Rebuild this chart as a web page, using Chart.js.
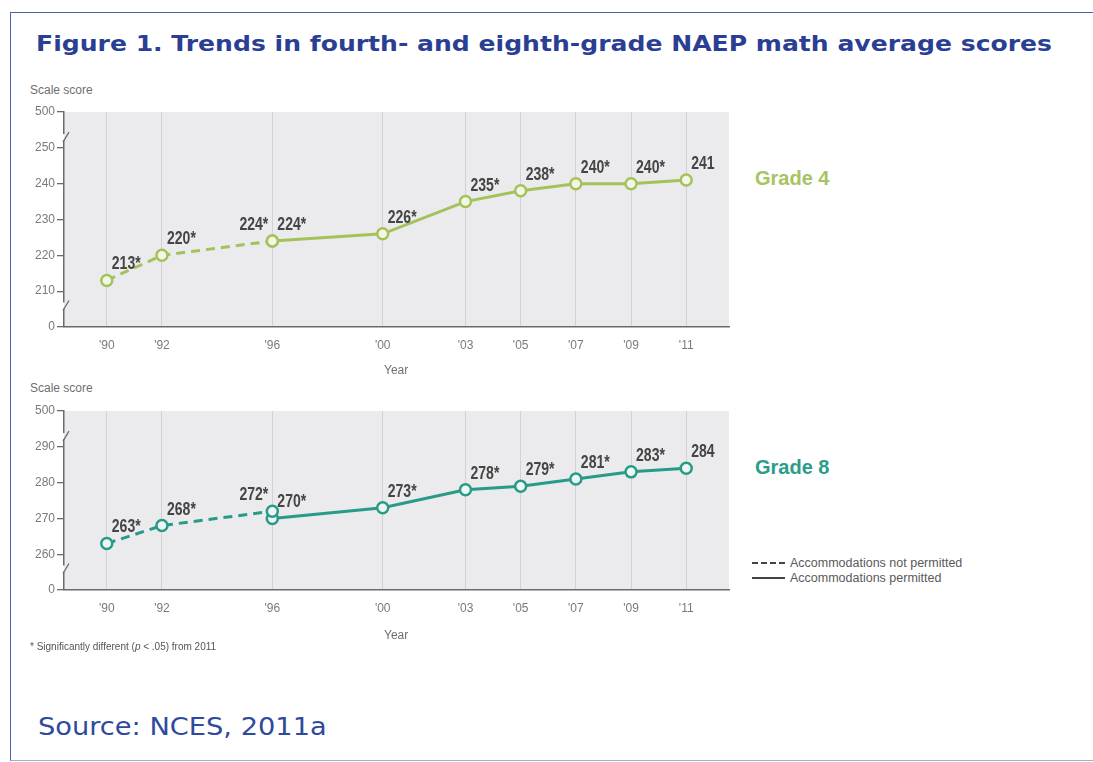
<!DOCTYPE html>
<html>
<head>
<meta charset="utf-8">
<script src="https://cdn.jsdelivr.net/npm/chart.js@4.4.0/dist/chart.umd.min.js"></script>
<style>
  body { margin: 0; width: 1093px; height: 762px; overflow: hidden; position: relative; background: #fff;
         font-family: 'Liberation Sans', Arial, sans-serif; }
  #frame { position: absolute; left: 10px; top: 12px; width: 1100px; height: 747px;
           border-left: 1.5px solid #4a63b0; border-top: 1.5px solid #4a63b0; border-bottom: 1.5px solid #a7aec9; }
  .txt { position: absolute; white-space: nowrap; line-height: 20px; }
  #title { left: 36px; top: 34px; font-family: 'DejaVu Sans', Verdana, sans-serif; font-size: 22px; font-weight: bold;
           color: #2a3f94; transform: scaleX(1.14); transform-origin: left center; }
  #source { left: 38px; top: 717px; font-family: 'DejaVu Sans', Verdana, sans-serif; font-size: 25px; color: #2f4a9c;
            transform: scaleX(1.09); transform-origin: left center; }
  .axisnote { font-size: 12px; color: #6f6f6f; }
  .grade { font-size: 20px; font-weight: bold; }
  .legend { font-size: 12.5px; color: #5a5a5a; }
  .wrap { position: absolute; left: 0; }
  .sample { position: absolute; left: 752px; width: 33px; height: 0; }
</style>
</head>
<body>
<div id="frame"></div>
<div class="txt" id="title">Figure 1. Trends in fourth- and eighth-grade NAEP math average scores</div>

<div class="txt axisnote" style="left:30px; top:80px;">Scale score</div>
<div class="wrap" style="top:95px;"><canvas id="grade4" width="745" height="275"></canvas></div>
<div class="txt axisnote" style="left:384px; top:360px;">Year</div>
<div class="txt grade" style="left:755px; top:168px; color:#a6c462;">Grade 4</div>

<div class="txt axisnote" style="left:30px; top:378px;">Scale score</div>
<div class="wrap" style="top:394px;"><canvas id="grade8" width="745" height="239"></canvas></div>
<div class="txt axisnote" style="left:384px; top:625px;">Year</div>
<div class="txt grade" style="left:755px; top:457px; color:#2a9c8a;">Grade 8</div>

<div class="sample" style="top:562px; border-top: 2.5px dashed #444;"></div>
<div class="txt legend" style="left:790px; top:553px;">Accommodations not permitted</div>
<div class="sample" style="top:577px; border-top: 2.5px solid #444;"></div>
<div class="txt legend" style="left:790px; top:568px;">Accommodations permitted</div>

<div class="txt" style="left:30px; top:637px; font-size:10px; color:#555;">* Significantly different (<i>p</i> &lt; .05) from 2011</div>

<div class="txt" id="source">Source: NCES, 2011a</div>

<script>
// years and tick labels
const years = [1990, 1992, 1996, 2000, 2003, 2005, 2007, 2009, 2011];
const yearLabels = ["'90", "'92", "'96", "'00", "'03", "'05", "'07", "'09", "'11"];
const notPermittedYears = [1990, 1992, 1996];
const permittedYears = [1996, 2000, 2003, 2005, 2007, 2009, 2011];

// Grade 4 scores
const g4NotPermitted = [213, 220, 224];
const g4Permitted = [224, 226, 235, 238, 240, 240, 241];
const g4Ticks = [200, 210, 220, 230, 240, 250, 260];
const g4TickLabels = ['0', '210', '220', '230', '240', '250', '500'];

// Grade 8 scores
const g8NotPermitted = [263, 268, 272];
const g8Permitted = [270, 273, 278, 279, 281, 283, 284];
const g8Ticks = [250, 260, 270, 280, 290, 300];
const g8TickLabels = ['0', '260', '270', '280', '290', '500'];

// significantly different from 2011 -> asterisk
const notPermittedSig = [true, true, true];
const permittedSig = [true, true, true, true, true, true, false];

const sans = "'Liberation Sans', Arial, sans-serif";
const axisColor = '#6b6b6b';

// grey plot background
const plotBg = {
  id: 'plotBg',
  beforeDraw(chart) {
    const a = chart.chartArea, ctx = chart.ctx;
    ctx.save();
    ctx.fillStyle = '#ebebee';
    ctx.fillRect(a.left, a.top, a.right - a.left, a.bottom - a.top);
    ctx.restore();
  }
};

// axis break marks near top and bottom of the y axis
const axisBreaks = {
  id: 'axisBreaks',
  afterDraw(chart) {
    const y = chart.scales.y, ctx = chart.ctx;
    const x = chart.chartArea.left;
    [y.max - 7, y.min + 6].forEach(v => {
      const py = y.getPixelForValue(v);
      ctx.save();
      ctx.fillStyle = '#ffffff';
      ctx.fillRect(x - 2, py - 3, 2, 6);
      ctx.fillStyle = '#ebebee';
      ctx.fillRect(x, py - 3, 2, 6);
      ctx.strokeStyle = axisColor;
      ctx.lineWidth = 1.3;
      ctx.beginPath();
      ctx.moveTo(x - 1, py + 5);
      ctx.lineTo(x + 5, py - 5);
      ctx.stroke();
      ctx.restore();
    });
  }
};

// score labels above each point (condensed by a horizontal squeeze)
const pointLabels = {
  id: 'pointLabels',
  afterDatasetsDraw(chart) {
    const ctx = chart.ctx;
    const squeeze = 0.78;
    chart.data.datasets.forEach((ds, di) => {
      const meta = chart.getDatasetMeta(di);
      meta.data.forEach((pt, i) => {
        const txt = ds.data[i].y + (ds.sig[i] ? '*' : '');
        const onLeft = ds.dashed && i === ds.data.length - 1;
        const tx = onLeft ? pt.x - 4 : pt.x + 5;
        ctx.save();
        ctx.font = 'bold 18px ' + sans;
        ctx.fillStyle = '#454545';
        ctx.textBaseline = 'middle';
        ctx.textAlign = onLeft ? 'right' : 'left';
        ctx.translate(tx, pt.y - 16);
        ctx.scale(squeeze, 1);
        ctx.fillText(txt, 0, 0);
        ctx.restore();
      });
    });
  }
};

function makeChart(id, color, fill, notPermitted, permitted, ticks, tickLabels) {
  const ctx = document.getElementById(id).getContext('2d');
  return new Chart(ctx, {
    type: 'line',
    data: {
      datasets: [{
        data: notPermittedYears.map((yr, i) => ({ x: yr, y: notPermitted[i] })),
        sig: notPermittedSig,
        dashed: true,
        borderColor: color,
        borderWidth: 3,
        borderDash: [9, 6],
        pointRadius: 5.5,
        pointBorderWidth: 2.5,
        pointBorderColor: color,
        pointBackgroundColor: fill
      }, {
        data: permittedYears.map((yr, i) => ({ x: yr, y: permitted[i] })),
        sig: permittedSig,
        dashed: false,
        borderColor: color,
        borderWidth: 3,
        pointRadius: 5.5,
        pointBorderWidth: 2.5,
        pointBorderColor: color,
        pointBackgroundColor: fill
      }]
    },
    options: {
      responsive: false,
      animation: false,
      layout: { padding: { top: 17, right: 16, left: 0, bottom: 0 } },
      plugins: { legend: { display: false }, tooltip: { enabled: false } },
      scales: {
        x: {
          type: 'linear',
          min: 1988.45,
          max: 2012.55,
          afterBuildTicks: scale => { scale.ticks = years.map(v => ({ value: v })); },
          afterFit: scale => { scale.height = 43; },
          ticks: {
            autoSkip: false, maxRotation: 0, padding: 11, color: '#7a7a7a',
            font: { family: sans, size: 12 },
            callback: (v, i) => yearLabels[i]
          },
          grid: { color: '#d2d2d6', lineWidth: 1, drawTicks: false },
          border: { color: axisColor, width: 1.5 }
        },
        y: {
          min: ticks[0],
          max: ticks[ticks.length - 1],
          afterBuildTicks: scale => { scale.ticks = ticks.map(v => ({ value: v })); },
          afterFit: scale => { scale.width = 64; },
          ticks: {
            padding: 2, color: '#7a7a7a',
            font: { family: sans, size: 12 },
            callback: (v, i) => tickLabels[i]
          },
          grid: { drawOnChartArea: false, drawTicks: true, tickLength: 7, color: axisColor, lineWidth: 1.3 },
          border: { color: axisColor, width: 1.5 }
        }
      }
    },
    plugins: [plotBg, pointLabels, axisBreaks]
  });
}

makeChart('grade4', '#a3c35a', '#f3f6e6', g4NotPermitted, g4Permitted, g4Ticks, g4TickLabels);
makeChart('grade8', '#279a88', '#eef5f3', g8NotPermitted, g8Permitted, g8Ticks, g8TickLabels);
</script>
</body>
</html>
